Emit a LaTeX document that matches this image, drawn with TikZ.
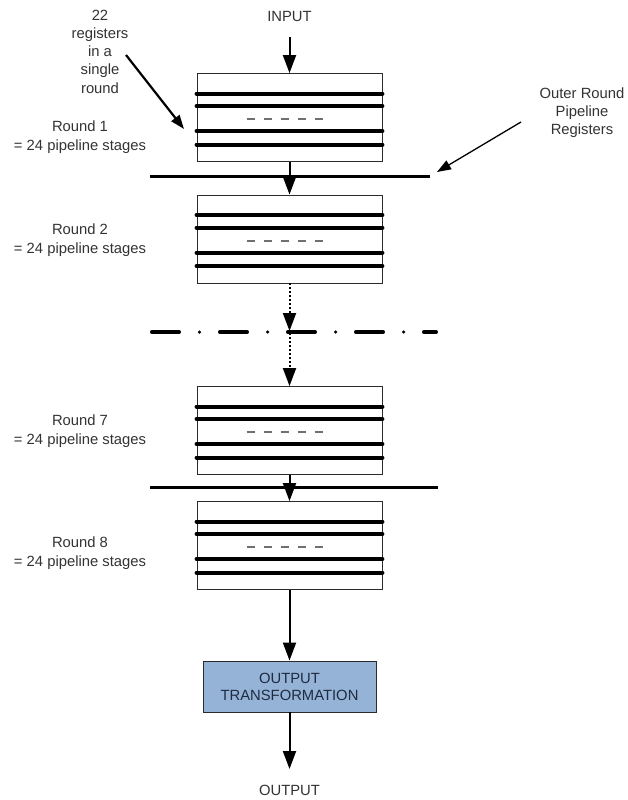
\documentclass[tikz,border=0pt]{standalone}
\usepackage{fontspec}
\setmainfont{Liberation Sans}
\usetikzlibrary{arrows.meta,calc}
\definecolor{txt}{HTML}{333333}
\definecolor{edge}{HTML}{2B2B2B}
\definecolor{outfill}{HTML}{95B3D7}
\definecolor{outtxt}{HTML}{1F2B40}
\definecolor{dashgray}{HTML}{707070}

\begin{document}
\begin{tikzpicture}[x=1pt,y=-1pt,
  lbl/.style={text=txt, font=\fontsize{14.8}{19}\selectfont, align=center, inner sep=0pt},
  roundbox/.style={draw=edge, line width=0.9pt, minimum width=185pt, minimum height=88pt, inner sep=0pt},
  outbox/.style={draw=edge, line width=0.9pt, fill=outfill, text=outtxt, minimum width=173pt, minimum height=51pt,
    inner sep=0pt, align=center, font=\fontsize{14.8}{17}\selectfont},
  reg/.style={line width=4pt, line cap=round, black},
  gdash/.style={line width=2pt, dashgray, dash pattern=on 8pt off 9pt},
  outer/.style={line width=3pt, black},
  flow/.style={line width=2pt, black, -{Triangle[length=18pt,width=13pt]}},
  dotflow/.style={flow, dash pattern=on 2pt off 2pt},
  note/.style={black, -{Triangle[length=14pt,width=10pt]}},
  phasegap/.style={line width=3.5pt, black, line cap=round, dash pattern=on 27.5pt off 20.25pt on 0pt off 20.25pt}
]
\useasboundingbox[fill=white] (0,0) rectangle (627,800);

% round blocks
\node[roundbox] (r1) at (289.5,117.5) {};
\node[roundbox] (r2) at (289.5,239) {};
\node[roundbox] (r7) at (289.5,430.5) {};
\node[roundbox] (r8) at (289.5,545.5) {};

% registers inside each round
\foreach \b in {r1,r2,r7,r8} {
  \foreach \d in {20.5,33,58,71.5}
    \draw[reg] ($(\b.north west)+(0,\d)$) -- ($(\b.north east)+(0,\d)$);
  \draw[gdash] ($(\b.north west)+(50,46)$) -- ($(\b.north west)+(126,46)$);
}

% outer round pipeline registers
\draw[outer] (150,176) -- (430,176);
\draw[outer] (150,487) -- (438,487);
\draw[phasegap] (151.75,332) -- (436.25,332);

% labels
\node[lbl] (in) at (289.5,16) {INPUT};
\node[lbl] (out) at (289.5,790) {OUTPUT};
\node[lbl, font=\fontsize{14.8}{18.25}\selectfont] (regs) at (100,51.5) {22\\registers\\in a\\single\\round};
\node[lbl, font=\fontsize{14.8}{18}\selectfont] (orp) at (582,113) {Outer Round\\Pipeline\\Registers};
\node[lbl] (l1) at (80,137.5) {Round 1\\= 24 pipeline stages};
\node[lbl] (l2) at (80,240) {Round 2\\= 24 pipeline stages};
\node[lbl] (l7) at (80,431.5) {Round 7\\= 24 pipeline stages};
\node[lbl] (l8) at (80,553) {Round 8\\= 24 pipeline stages};

\node[outbox] (ot) at (289.5,686.5) {OUTPUT\\TRANSFORMATION};

% connector end points
\coordinate (ins) at (289.5,37);
\coordinate (gapin) at (289.5,331);
\coordinate (gapout) at (289.5,333);
\coordinate (outs) at (289.5,769);
\coordinate (n1s) at (126,55);
\coordinate (n1e) at (184,129);
\coordinate (n2s) at (521,122);
\coordinate (n2e) at (437,172);

% data flow
\draw[flow] (ins) -- (r1.north);
\draw[flow] (r1.south) -- (r2.north);
\draw[dotflow] (r2.south) -- (gapin);
\draw[dotflow] (gapout) -- (r7.north);
\draw[flow] (r7.south) -- (r8.north);
\draw[flow] (r8.south) -- (ot.north);
\draw[flow] (ot.south) -- (outs);

% annotations
\draw[note, line width=2.2pt] (n1s) -- (n1e);
\draw[note, line width=1.3pt] (n2s) -- (n2e);
\end{tikzpicture}
\end{document}
